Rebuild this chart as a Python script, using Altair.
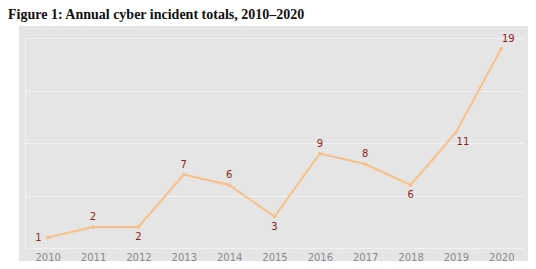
import altair as alt
import pandas as pd

years = ["2010", "2011", "2012", "2013", "2014", "2015", "2016", "2017", "2018", "2019", "2020"]
incidents = [1, 2, 2, 7, 6, 3, 9, 8, 6, 11, 19]
label_side = ["left", "above", "below", "above", "above", "below", "above", "above", "below", "below-right", "above-right"]

df = pd.DataFrame({"year": years, "incidents": incidents, "side": label_side})

W, H = 499, 210
BG = "#e5e5e5"
GRID = "#f1f1f1"
LINE = "#f9bf86"
LBL = "#8b1f1f"

x_enc = alt.X("year:N", sort=years,
              scale=alt.Scale(paddingInner=0, paddingOuter=0),
              axis=alt.Axis(title=None, labelAngle=0, tickBand="extent",
                            labelColor="#8a8a8a", labelFont="DejaVu Sans",
                            labelFontSize=10, labelPadding=1, labelBaseline="top",
                            domainColor=GRID, tickColor=GRID, tickSize=3,
                            grid=False))
y_enc = alt.Y("incidents:Q", scale=alt.Scale(domain=[0, 20], nice=False),
              axis=alt.Axis(title=None, labels=False, ticks=False,
                            values=[0, 5, 10, 15, 20], grid=True,
                            gridColor=GRID, domainColor=GRID))

# white margins around the grey panel (the chart background itself is grey)
top_margin = alt.Chart(df).mark_rect(color="white", clip=False).encode(
    x=alt.value(-17), x2=alt.value(W + 4), y=alt.value(-30), y2=alt.value(-12))
left_margin = alt.Chart(df).mark_rect(color="white", clip=False).encode(
    x=alt.value(-17), x2=alt.value(-6), y=alt.value(-12), y2=alt.value(H + 13))

base = alt.Chart(df)
line = base.mark_line(color=LINE, strokeWidth=2).encode(x=x_enc, y=y_enc)
pts = base.mark_point(filled=True, color=LINE, size=14, opacity=1).encode(x=x_enc, y=y_enc)

offsets = {
    "above": (0, -10),
    "below": (0, 10),
    "left": (-6, 0),
    "above-right": (7, -10),
    "below-right": (7, 9),
}
labels = []
for side, (dx, dy) in offsets.items():
    labels.append(
        base.transform_filter(alt.datum.side == side)
        .mark_text(color=LBL, font="DejaVu Sans", fontSize=10, dx=dx, dy=dy,
                   align="right" if side == "left" else "center", baseline="middle")
        .encode(x=x_enc, y=y_enc, text="incidents:Q")
    )

chart = alt.layer(top_margin, left_margin, line, pts, *labels).properties(
    width=W, height=H,
    title=alt.TitleParams("Figure 1: Annual cyber incident totals, 2010–2020",
                          anchor="start", frame="group", font="Liberation Serif",
                          fontSize=14, fontWeight="bold", color="#111111",
                          dx=-17, dy=18, offset=4, zindex=1),
    autosize=alt.AutoSizeParams(type="none"),
    padding={"left": 17, "top": 30, "right": 4, "bottom": 13},
    background=BG,
).configure_view(fill=BG, stroke=None)

chart.save("out.html", embed_options={"renderer": "svg", "actions": False})
